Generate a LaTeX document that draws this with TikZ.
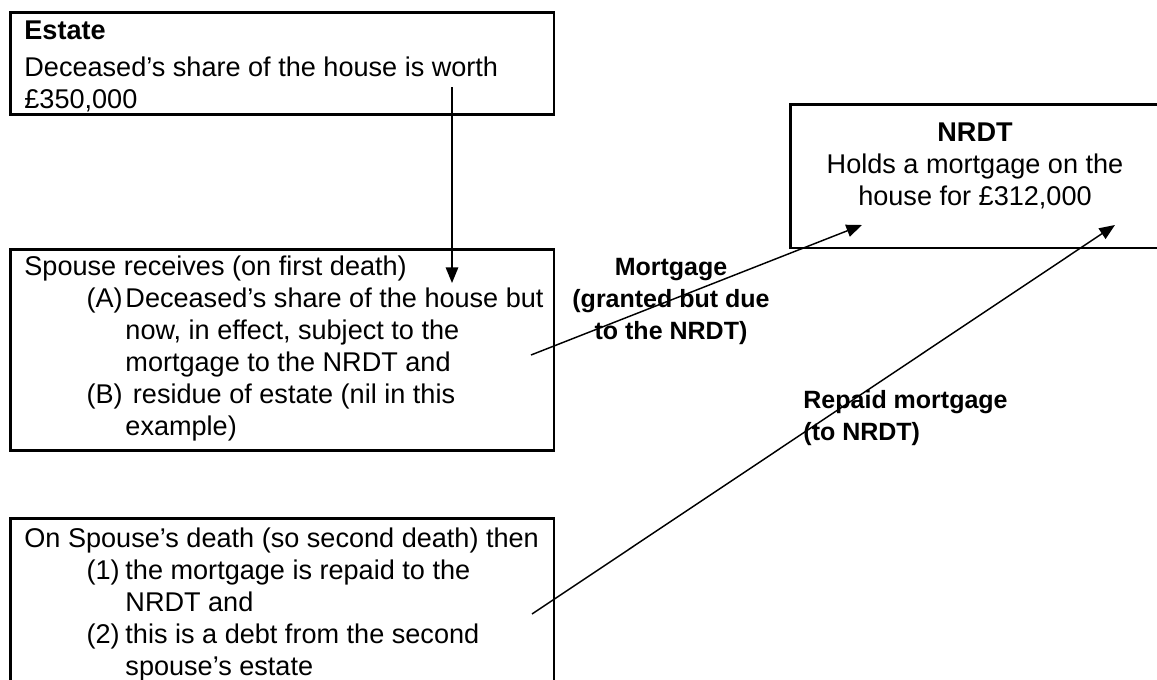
\documentclass[tikz,border=0pt]{standalone}
\usepackage{fontspec}
\setmainfont{Liberation Sans}
\usetikzlibrary{arrows.meta}
\tikzset{
	boxframe/.style={draw, line width=1.2pt, anchor=north west, inner sep=0pt},
	boxtext/.style={anchor=north west, inner sep=0pt, align=left, font=\fontsize{13}{15.4}\selectfont},
	flowlabel/.style={inner sep=0pt, font=\fontsize{12}{15.4}\selectfont\bfseries},
	link/.style={line width=0.7pt, -{Triangle[length=7.5pt, width=6pt]}}
}
\newcommand{\firstline}{\rule{0pt}{10pt}}
\newcommand{\listline}[2]{\hspace*{29.8pt}\makebox[18.7pt][l]{#1}#2}
\newcommand{\contline}[1]{\hspace*{48.5pt}#1}

\begin{document}
\begin{tikzpicture}[x=0.48pt, y=-0.48pt]
		\useasboundingbox (0,0) rectangle (1157,679);
		% boxes
		\node [boxframe, minimum width=261.1pt, minimum height=49pt] (estate) at (9,11) {};
		\node [boxframe, minimum width=261.1pt, minimum height=96.5pt] (spouse) at (9,248) {};
		\node [boxframe, minimum width=261.1pt, minimum height=90pt] (second) at (9,517) {};
		\node [boxframe, minimum width=179pt, minimum height=69.1pt] (nrdt) at (789,103) {};
		% texts
		\node [boxtext] (estatetext) at (24,18.7) {\firstline\textbf{Estate}\\[2pt]Deceased’s share of the house is worth\\£350,000};
		\node [boxtext] (spousetext) at (24,254.2) {\firstline Spouse receives (on first death)\\
				\listline{(A)}{Deceased’s share of the house but}\\
				\contline{now, in effect, subject to the}\\
				\contline{mortgage to the NRDT and}\\
				\listline{(B)}{\ residue of estate (nil in this}\\
				\contline{example)}};
		\node [boxtext] (secondtext) at (24,526.2) {\firstline On Spouse’s death (so second death) then\\
				\listline{(1)}{the mortgage is repaid to the}\\
				\contline{NRDT and}\\
				\listline{(2)}{this is a debt from the second}\\
				\contline{spouse’s estate}};
		\node [boxtext, anchor=north, align=center] (nrdttext) at (975,120.2) {\firstline\textbf{NRDT}\\Holds a mortgage on the\\house for £312,000};
		\node [flowlabel, anchor=north, align=center] (mortlabel) at (671,254.2) {\firstline Mortgage\\(granted but due\\to the NRDT)};
		\node [flowlabel, anchor=north west, align=left] (replabel) at (803,387.2) {\firstline Repaid mortgage\\(to NRDT)};
		% connectors
		\coordinate (shareout) at (452,87);
		\coordinate (sharein) at (452,283);
		\coordinate (mortout) at (531,355);
		\coordinate (mortin) at (862,225);
		\coordinate (repout) at (532,614);
		\coordinate (repin) at (1115,225);
		\foreach \a/\b in {shareout/sharein, mortout/mortin, repout/repin}{
				\draw [link] (\a) -- (\b);
			}
	\end{tikzpicture}
\end{document}
